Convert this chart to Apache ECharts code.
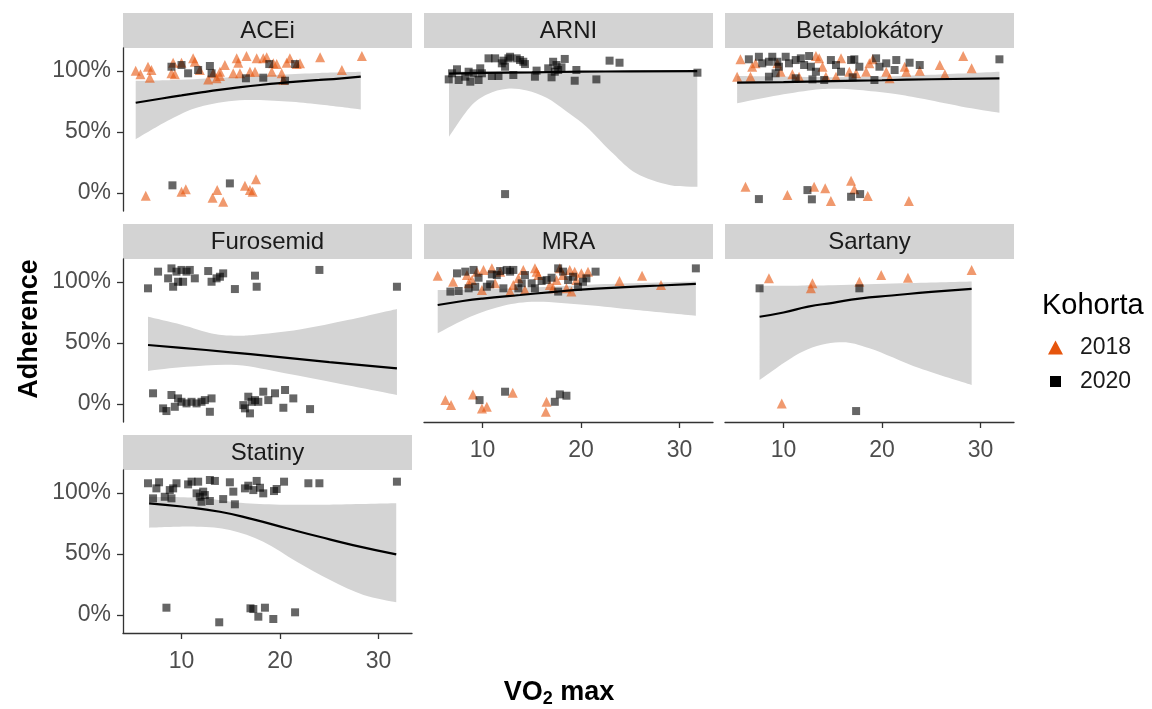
<!DOCTYPE html>
<html><head><meta charset="utf-8">
<script src="https://cdn.jsdelivr.net/npm/echarts@6/dist/echarts.min.js"></script>
<style>html,body{margin:0;padding:0;background:#fff}#c{width:1152px;height:709px}</style>
</head><body><div id="c"></div>
<script>
const panelNames = ['ACEi','ARNI','Betablokátory','Furosemid','MRA','Sartany','Statiny'];
const xTicks = [10, 20, 30];
const yTicks = [0, 50, 100];
const cohorts = ['2018', '2020'];
const yTitle = 'Adherence';
const legendTitle = 'Kohorta';

// ---- ACEi ----
const aceiPts2018 = [[5.35,100.4],[5.83,97.4],[6.6,103.6],[6.78,94.6],[6.95,100.9],[8.98,98.2],[9.15,106.9],[9.32,97.4],[10.0,106.9],[11.18,110.5],[11.35,107.7],[11.86,100.9],[12.71,93.2],[13.21,98.2],[13.56,94.1],[13.9,99.5],[14.4,105.0],[13.9,96.0],[15.25,98.2],[15.6,110.5],[15.76,106.9],[16.6,112.4],[15.93,98.2],[16.95,99.5],[17.46,99.5],[17.63,110.5],[18.3,110.5],[18.65,111.3],[19.16,99.5],[19.32,106.4],[19.66,105.8],[20.17,98.2],[20.34,92.7],[20.68,106.9],[21.0,110.5],[21.7,105.8],[22.03,106.4],[24.07,111.3],[26.28,100.9],[28.31,112.4],
  [6.37,-2.5],[10.0,0.8],[10.44,2.8],[13.15,-4.1],[13.62,2.2],[14.23,-7.4],[16.44,5.8],[16.95,2.2],[17.22,0.8],[17.56,11.0]];
const aceiPts2020 = [[8.98,103.6],[10.0,105.0],[10.67,98.2],[11.69,100.9],[12.88,104.2],[13.05,98.2],[16.54,94.1],[18.3,94.6],[18.91,105.8],[20.51,92.1],[21.53,105.8],[9.08,6.1],[14.91,7.7]];
const aceiFit = [[5.35,74],[8,77.5],[10,80],[12,82.5],[14,84.8],[16,86.8],[18,88.6],[20,90.2],[22,91.6],[24,92.8],[26,93.9],[28.2,95.5]];
const aceiUpper = [[5.35,92],[10,93],[15,95],[20,97],[24,98.5],[28.2,99.5]];
const aceiLower = [[5.35,44],[8.8,60],[11.8,70.5],[15.9,76],[20.7,75],[24,72.5],[28.2,68.5]];

// ---- ARNI ----
const arniPts2018 = [];
const arniPts2020 = [[6.57,93.2],[6.91,98.2],[7.41,101.5],[7.58,92.7],[8.25,95.4],[8.59,99.5],[8.76,91.3],[9.09,98.2],[9.6,92.7],[9.77,102.3],[9.94,98.2],[10.61,110.5],[10.95,96.0],[11.28,110.5],[11.62,96.0],[11.96,106.4],[12.12,108.6],[12.29,103.6],[12.63,110.5],[12.8,111.8],[13.13,96.8],[13.47,110.5],[13.81,109.1],[14.14,107.7],[14.31,105.8],[15.32,95.4],[15.49,100.4],[16.67,102.3],[17.01,94.9],[17.17,107.7],[17.34,99.5],[17.51,105.0],[17.68,100.9],[18.02,103.1],[18.35,110.0],[19.36,92.1],[19.53,100.9],[21.56,93.2],[22.9,108.6],[23.91,106.9],[31.82,98.7],[12.29,-1.1]];
const arniFit = [[6.6,98],[10,98.5],[15,99],[20,99.5],[25,99.8],[31.8,100]];
const arniUpper = [[6.6,99.5],[15,100],[31.8,100.5]];
const arniLower = [[6.6,46],[8.76,70.7],[10.5,81],[12.5,85.5],[14.5,84],[16.5,78],[18.5,67],[20.55,54.3],[23.23,32.4],[25.6,16],[28.96,6.3],[31.82,4.9]];

// ---- Betablokátory ----
const betaPts2018 = [[5.63,109.7],[5.29,95.4],[6.65,95.4],[6.82,103.6],[7.16,106.4],[9.37,106.4],[9.71,99.5],[10.9,97.4],[11.58,95.4],[13.29,112.4],[13.62,110.5],[13.96,103.6],[14.3,95.4],[15.33,95.4],[15.84,110.5],[16.68,99.5],[17.37,98.2],[18.39,99.5],[18.72,106.4],[19.06,109.7],[20.43,99.5],[20.77,94.1],[22.3,103.6],[22.47,99.5],[23.83,100.4],[25.87,105.0],[26.38,97.4],[28.24,112.4],[29.1,102.3],
  [6.14,4.9],[10.39,-1.9],[13.11,4.9],[14.23,3.6],[14.81,-6.8],[16.86,9.9],[17.19,2.8],[18.55,-2.7],[22.73,-6.8]];
const betaPts2020 = [[6.48,109.7],[7.5,111.8],[7.84,106.4],[8.52,107.7],[8.86,111.8],[9.37,107.7],[9.54,103.6],[10.22,111.8],[10.56,106.4],[11.24,109.1],[11.76,110.5],[12.09,105.0],[12.6,112.4],[12.78,103.6],[13.29,99.5],[8.52,95.4],[9.2,98.2],[11.24,94.1],[12.94,93.2],[14.13,92.7],[14.81,109.1],[15.33,105.0],[15.84,99.5],[16.86,109.1],[17.19,109.7],[17.7,103.6],[19.4,110.5],[19.74,103.6],[20.43,106.4],[21.45,109.1],[21.28,100.9],[22.8,106.9],[23.83,105.0],[19.23,92.7],[17.02,94.9],[31.92,109.7],
  [7.5,-5.2],[12.43,2.2],[12.88,-5.4],[16.86,-3.3],[17.78,-1.1]];
const betaFit = [[5.29,90.5],[10,91],[15,91.8],[20,92.5],[25,93.3],[31.92,94]];
const betaUpper = [[5.29,96],[10,95.5],[15,95],[20,95.5],[25,97],[31.92,99.5]];
const betaLower = [[5.29,73.5],[9,79.5],[12.94,84.5],[15.3,85.5],[17.7,84.5],[21,81.5],[23.83,77.6],[28,71],[31.92,65.8]];

// ---- Furosemid ----
const furoPts2018 = [];
const furoPts2020 = [[6.6,94.9],[7.62,108.6],[8.64,103.1],[8.98,111.3],[9.15,96.2],[9.49,108.6],[9.65,100.3],[10.0,110.0],[10.16,100.3],[10.51,108.6],[10.84,110.0],[11.35,103.1],[12.71,109.1],[13.05,100.3],[13.56,103.1],[13.9,104.4],[14.23,107.2],[15.42,94.3],[17.46,105.3],[17.63,96.2],[24.0,110.0],[31.87,96.2],
  [7.11,8.6],[8.13,-3.8],[8.47,-6.0],[8.98,7.2],[9.32,-2.5],[9.65,4.4],[10.0,1.6],[10.51,0.3],[11.02,1.6],[11.53,0.3],[12.03,1.6],[12.37,3.0],[12.88,-6.6],[13.05,4.4],[16.27,-1.1],[16.44,-3.8],[16.78,5.8],[16.95,-7.9],[17.12,1.6],[17.46,3.0],[17.8,1.6],[18.3,9.9],[18.81,3.0],[19.49,8.6],[20.34,-3.3],[20.51,11.3],[21.35,4.4],[23.05,-4.4]];
const furoFit = [[6.6,48.3],[10,46],[15,42.3],[19,39.2],[25,34.3],[31.87,29.1]];
const furoUpper = [[6.6,71.5],[10,65],[13.21,57.5],[15.3,56],[17.29,56.5],[22,61],[27,69],[31.87,77.9]];
const furoLower = [[6.6,27],[10.51,30.4],[15.59,31.8],[20.51,25],[25.8,16.8],[31.87,7.2]];

// ---- MRA ----
const mraPts2018 = [[5.45,105.3],[7.01,100.3],[8.42,105.8],[8.59,99.0],[8.93,101.7],[9.43,108.6],[9.94,93.5],[10.1,110.0],[10.95,111.3],[11.28,99.0],[11.79,108.6],[12.8,92.2],[13.13,97.6],[13.64,103.1],[14.14,110.0],[14.31,93.5],[15.32,111.3],[15.49,108.6],[15.66,105.8],[16.84,97.6],[17.17,94.9],[17.51,101.7],[17.85,111.3],[18.18,105.8],[18.52,94.9],[18.86,110.0],[19.02,92.2],[19.36,108.6],[19.53,101.7],[20.04,107.2],[20.71,108.6],[23.91,100.9],[26.2,105.3],[28.12,97.6],
  [6.23,3.0],[6.81,-1.1],[9.03,7.7],[9.94,-3.8],[10.44,-2.5],[13.07,9.1],[16.5,1.6],[16.43,-6.6]];
const mraPts2020 = [[6.74,92.2],[7.41,107.2],[7.58,92.7],[8.25,108.6],[8.59,94.9],[9.09,110.0],[9.26,96.2],[9.6,103.6],[10.44,96.2],[10.78,98.2],[10.95,106.4],[11.45,105.8],[11.79,109.1],[12.12,94.9],[12.46,110.0],[12.8,108.6],[13.13,110.0],[13.64,94.9],[13.98,99.0],[14.31,105.8],[14.99,99.0],[15.32,94.9],[16.0,100.9],[16.5,101.7],[17.01,103.6],[17.68,111.3],[18.18,108.6],[18.69,101.7],[19.19,104.4],[19.7,96.2],[20.2,100.3],[20.55,103.1],[21.48,108.6],[31.66,111.3],[17.68,92.2],
  [9.7,3.0],[12.29,9.9],[17.34,1.6],[17.85,7.7],[18.52,6.6]];
const mraFit = [[5.45,81.2],[8,84.5],[10,86.5],[13.8,89.4],[17,91.8],[20,93.8],[24,95.7],[28,97.2],[31.66,98.5]];
const mraUpper = [[5.45,93.5],[10,94],[15,95.5],[20,97.5],[25,99],[31.66,100.5]];
const mraLower = [[5.45,57.9],[8.76,71.5],[12.12,80.6],[15.49,83.9],[20.55,81.2],[25.6,77.1],[31.66,72.4]];

// ---- Sartany ----
const sartPts2018 = [[8.52,103.1],[12.94,99.0],[12.78,94.9],[17.7,100.3],[19.92,105.8],[22.63,103.6],[29.1,110.0],[9.82,0.3]];
const sartPts2020 = [[7.57,94.9],[17.7,94.9],[17.37,-6.0]];
const sartFit = [[7.57,71.5],[10,75],[12.5,79.8],[15,83],[17.7,86.5],[21,89],[25,92],[29.1,94.5]];
const sartUpper = [[7.57,97],[15,97.5],[22,99],[29.1,100.5]];
const sartLower = [[7.57,19.5],[11.92,42.8],[15.66,50.5],[18.72,45.6],[23.83,29.1],[29.1,15.4]];

// ---- Statiny ----
const statPts2018 = [];
const statPts2020 = [[6.6,108.1],[7.11,95.7],[7.45,103.9],[7.72,108.9],[8.3,97.0],[8.81,102.5],[8.98,95.7],[9.15,103.9],[9.49,108.1],[10.67,107.2],[11.02,109.4],[11.53,99.8],[11.69,109.4],[11.86,97.0],[12.03,92.9],[12.2,101.2],[12.37,98.4],[12.88,110.8],[12.88,93.5],[13.39,110.0],[14.23,95.1],[14.91,108.9],[15.26,101.2],[15.42,90.8],[16.44,103.9],[16.78,106.1],[17.29,102.5],[17.63,110.0],[17.97,104.4],[18.3,99.8],[19.39,101.7],[19.66,103.4],[20.41,109.4],[22.88,108.1],[24.0,108.1],[31.87,109.4],
  [8.47,5.8],[13.83,-6.2],[17.0,5.3],[17.29,4.7],[17.8,-1.6],[18.47,5.8],[19.32,-3.5],[21.53,2.0]];
const statFit = [[6.71,91.6],[10,89],[13.9,84.7],[17.29,78.4],[20.68,71.1],[24,64.1],[27.4,57.3],[31.8,49.7]];
const statUpper = [[6.71,97],[12,96],[16,92],[20,90.5],[25,90.5],[31.8,91.6]];
const statLower = [[6.71,71.5],[11.53,72.4],[14.91,69.7],[18.3,60],[21.7,43.6],[25.09,28.5],[28.48,16.2],[31.8,10.2]];

// ---------- build ----------
const panels = [
  {p18: aceiPts2018, p20: aceiPts2020, fit: aceiFit, up: aceiUpper, lo: aceiLower},
  {p18: arniPts2018, p20: arniPts2020, fit: arniFit, up: arniUpper, lo: arniLower},
  {p18: betaPts2018, p20: betaPts2020, fit: betaFit, up: betaUpper, lo: betaLower},
  {p18: furoPts2018, p20: furoPts2020, fit: furoFit, up: furoUpper, lo: furoLower},
  {p18: mraPts2018, p20: mraPts2020, fit: mraFit, up: mraUpper, lo: mraLower},
  {p18: sartPts2018, p20: sartPts2020, fit: sartFit, up: sartUpper, lo: sartLower},
  {p18: statPts2018, p20: statPts2020, fit: statFit, up: statUpper, lo: statLower}
];

const FONT = "'Liberation Sans', Arial, sans-serif";
const colLeft = [123, 424, 725];
const rowTop = [48, 259, 470];
const PW = 289, PH = 163, STRIP = 35;
const X_MIN = 4.06, X_MAX = 33.4, Y_MIN = -15, Y_MAX = 119;
const ORANGE = '#E6550D';
const bottomAxisPanels = [4, 5, 6];

function catmull(P) {
  let d = '';
  for (let i = 0; i < P.length - 1; i++) {
    const p0 = P[i - 1] || P[i], p1 = P[i], p2 = P[i + 1], p3 = P[i + 2] || P[i + 1];
    const c1x = p1[0] + (p2[0] - p0[0]) / 6, c1y = p1[1] + (p2[1] - p0[1]) / 6;
    const c2x = p2[0] - (p3[0] - p1[0]) / 6, c2y = p2[1] - (p3[1] - p1[1]) / 6;
    d += ' C' + c1x + ',' + c1y + ' ' + c2x + ',' + c2y + ' ' + p2[0] + ',' + p2[1];
  }
  return d;
}

const grids = [], xAxes = [], yAxes = [], series = [], graphics = [];
panels.forEach((p, i) => {
  const r = Math.floor(i / 3), c = i % 3;
  grids.push({left: colLeft[c], top: rowTop[r], width: PW, height: PH, containLabel: false});
  const showX = bottomAxisPanels.includes(i);
  const showY = c === 0;
  xAxes.push({
    type: 'value', gridIndex: i, min: X_MIN, max: X_MAX,
    axisLine: {show: showX, onZero: false, lineStyle: {color: '#333', width: 1.3}},
    axisTick: {show: showX, customValues: xTicks, length: 6, lineStyle: {color: '#333', width: 1.3}},
    axisLabel: {show: showX, customValues: xTicks, margin: 17, color: '#4d4d4d', fontSize: 23, fontFamily: FONT},
    splitLine: {show: false}
  });
  yAxes.push({
    type: 'value', gridIndex: i, min: Y_MIN, max: Y_MAX,
    axisLine: {show: showY, onZero: false, lineStyle: {color: '#333', width: 1.3}},
    axisTick: {show: showY, customValues: yTicks, length: 6, lineStyle: {color: '#333', width: 1.3}},
    axisLabel: {show: showY, customValues: yTicks, margin: 12, formatter: '{value}%', color: '#4d4d4d', fontSize: 23, fontFamily: FONT},
    splitLine: {show: false}
  });
  series.push({
    type: 'custom', xAxisIndex: i, yAxisIndex: i, silent: true, z: 1,
    data: [p.lo[0]],
    renderItem: function (params, api) {
      const U = p.up.map(v => api.coord(v));
      const L = p.lo.map(v => api.coord(v)).reverse();
      const d = 'M' + U[0][0] + ',' + U[0][1] + catmull(U) + ' L' + L[0][0] + ',' + L[0][1] + catmull(L) + ' Z';
      return {type: 'path', shape: {pathData: d}, style: {fill: '#d4d4d4'}};
    }
  });
  series.push({
    type: 'scatter', name: cohorts[0], xAxisIndex: i, yAxisIndex: i, data: p.p18, z: 2,
    symbol: 'triangle', symbolSize: 10, itemStyle: {color: ORANGE, opacity: 0.6}
  });
  series.push({
    type: 'scatter', name: cohorts[1], xAxisIndex: i, yAxisIndex: i, data: p.p20, z: 2,
    symbol: 'rect', symbolSize: 8, itemStyle: {color: '#000', opacity: 0.6}
  });
  series.push({
    type: 'line', xAxisIndex: i, yAxisIndex: i, data: p.fit, smooth: true, symbol: 'none', z: 3,
    lineStyle: {color: '#000', width: 2.2}, silent: true
  });
  graphics.push({type: 'rect', shape: {x: colLeft[c], y: rowTop[r] - STRIP, width: PW, height: STRIP}, style: {fill: '#d3d3d3'}, silent: true});
  graphics.push({type: 'text', x: colLeft[c] + PW / 2, y: rowTop[r] - STRIP / 2 + 1,
    style: {text: panelNames[i], textAlign: 'center', textVerticalAlign: 'middle', fontSize: 24, fontFamily: FONT, fill: '#1a1a1a'}});
});

graphics.push({type: 'text', x: 30, y: 329, rotation: Math.PI / 2,
  style: {text: yTitle, textAlign: 'center', textVerticalAlign: 'middle', fontSize: 27, fontWeight: 'bold', fontFamily: FONT, fill: '#000'}});
graphics.push({type: 'text', x: 559, y: 693,
  style: {text: '{a|VO}{b|2}{a| max}', textAlign: 'center', textVerticalAlign: 'middle',
    rich: {a: {fontSize: 27, fontWeight: 'bold', fontFamily: FONT, fill: '#000'},
           b: {fontSize: 18, fontWeight: 'bold', fontFamily: FONT, fill: '#000', padding: [12, 0, 0, 0]}}}});
graphics.push({type: 'text', x: 1042, y: 306,
  style: {text: legendTitle, textAlign: 'left', textVerticalAlign: 'middle', fontSize: 29, fontFamily: FONT, fill: '#000'}});

const chart = echarts.init(document.getElementById('c'), null, {renderer: 'canvas'});
chart.setOption({
  animation: false,
  backgroundColor: '#fff',
  grid: grids, xAxis: xAxes, yAxis: yAxes, series: series,
  legend: [
    {data: [{name: cohorts[0], icon: 'triangle', itemStyle: {color: ORANGE, opacity: 1}}], orient: 'vertical',
     left: 1048, top: 336, padding: 0, itemWidth: 15, itemHeight: 14, selectedMode: false,
     textStyle: {fontSize: 23, fontFamily: FONT, color: '#1a1a1a', padding: [0, 0, 0, 12]}},
    {data: [{name: cohorts[1], icon: 'rect', itemStyle: {color: '#000', opacity: 1}}], orient: 'vertical',
     left: 1050, top: 370, padding: 0, itemWidth: 11, itemHeight: 11, selectedMode: false,
     textStyle: {fontSize: 23, fontFamily: FONT, color: '#1a1a1a', padding: [0, 0, 0, 14]}}
  ],
  graphic: graphics
});
</script></body></html>
